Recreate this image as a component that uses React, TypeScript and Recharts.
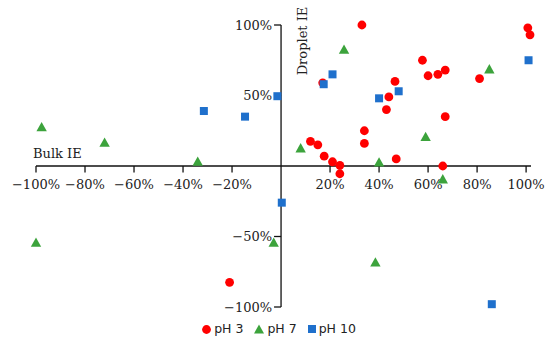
import React from "react";
import { ScatterChart, Scatter, XAxis, YAxis, ReferenceLine, ReferenceDot, Legend } from "recharts";

const ph3X = [33, 100.7, 101.6, 57.7, 60, 64, 67, 81, 17, 46.5, 44, 43, 67, 34, 34, 12, 15, 17.6, 21, 24, 24, 47, 66, -21];
const ph3Y = [100, 98, 93, 75, 64, 65, 68, 62, 59, 60, 49, 40, 35, 25, 16, 17.5, 15, 7, 3, 0.5, -5.5, 5, 0, -82.5];
const ph7X = [-97.7, -72, -34, 25.7, 85, 8, 59, 40, 66, -3, 38.5, -100];
const ph7Y = [27, 16, 2.5, 82, 68, 12, 20, 2, -10, -55, -69, -55];
const ph10X = [-31.5, -14.7, -1.5, 17.4, 21, 40, 48, 101, 0.3, 86];
const ph10Y = [39, 35, 49.5, 58, 65, 48, 53, 75, -26, -98];

const xTicks = [-100, -80, -60, -40, -20, 20, 40, 60, 80, 100];
const yTicks = [-100, -50, 50, 100];
const seriesNames = ["pH 3", "pH 7", "pH 10"];
const xLabel = "Bulk IE";
const yLabel = "Droplet IE";

const RED = "#ff0000";
const GREEN = "#3ca33c";
const BLUE = "#1f70cc";

const zip = (xs: number[], ys: number[]) => xs.map((x, i) => ({ x, y: ys[i] }));
const d3 = zip(ph3X, ph3Y);
const d7 = zip(ph7X, ph7Y);
const d10 = zip(ph10X, ph10Y);

const fmt = (v: number) => (v < 0 ? "\u2212" + Math.abs(v) : String(v)) + "%";
const SERIF = "'DejaVu Serif', serif";

const Circle = (p: any) => <circle cx={p.cx} cy={p.cy} r={4.4} fill={RED} />;
const Tri = (p: any) => (
  <polygon
    points={`${p.cx},${p.cy - 6} ${p.cx - 5.2},${p.cy + 3.3} ${p.cx + 5.2},${p.cy + 3.3}`}
    fill={GREEN}
  />
);
const Sq = (p: any) => <rect x={p.cx - 4} y={p.cy - 4} width={8} height={8} fill={BLUE} />;

const renderLegend = () => {
  const icons = [
    <svg width={9} height={9} key="c"><circle cx={4.5} cy={4.5} r={4.4} fill={RED} /></svg>,
    <svg width={10} height={10} key="t"><polygon points="5,0.5 0,9.5 10,9.5" fill={GREEN} /></svg>,
    <svg width={8} height={8} key="s"><rect x={0} y={0} width={8} height={8} fill={BLUE} /></svg>,
  ];
  return (
    <div
      style={{
        display: "flex",
        justifyContent: "center",
        alignItems: "center",
        gap: 11,
        paddingLeft: 8,
        fontFamily: "'DejaVu Sans', sans-serif",
        fontSize: 12.5,
        lineHeight: "14px",
        color: "#222",
      }}
    >
      {seriesNames.map((n, i) => (
        <div key={n} style={{ display: "flex", alignItems: "center", gap: 3 }}>
          {icons[i]}
          <span>{n}</span>
        </div>
      ))}
    </div>
  );
};

export default function App() {
  return (
    <div style={{ position: "absolute", left: 0, top: 0, width: 550, height: 340, background: "#fff" }}>
      <ScatterChart width={550} height={340} margin={{ top: 25, right: 19, left: 36, bottom: 33 }}>
        <XAxis type="number" dataKey="x" domain={[-100, 102]} hide />
        <YAxis type="number" dataKey="y" domain={[-100, 100]} hide />
        <ReferenceLine y={0} stroke="#111" strokeWidth={1.3} />
        <ReferenceLine x={0} stroke="#111" strokeWidth={1.3} />
        {xTicks.map((v) => (
          <ReferenceDot
            key={"xt" + v}
            x={v}
            y={0}
            r={0}
            shape={(p: any) => (
              <g>
                <line x1={p.cx} y1={p.cy} x2={p.cx} y2={p.cy + 6.5} stroke="#111" strokeWidth={1.3} />
                <text x={p.cx} y={p.cy + 23} textAnchor="middle" fontFamily={SERIF} fontSize={13} fill="#222">
                  {fmt(v)}
                </text>
              </g>
            )}
          />
        ))}
        {yTicks.map((v) => (
          <ReferenceDot
            key={"yt" + v}
            x={0}
            y={v}
            r={0}
            shape={(p: any) => (
              <g>
                <line x1={p.cx - 7} y1={p.cy} x2={p.cx} y2={p.cy} stroke="#111" strokeWidth={1.3} />
                <text x={p.cx - 9} y={p.cy + 4.7} textAnchor="end" fontFamily={SERIF} fontSize={13} fill="#222">
                  {fmt(v)}
                </text>
              </g>
            )}
          />
        ))}
        <ReferenceDot
          x={-100}
          y={0}
          r={0}
          shape={(p: any) => (
            <text x={p.cx - 3} y={p.cy - 8} fontFamily={SERIF} fontSize={13} fill="#222">
              {xLabel}
            </text>
          )}
        />
        <ReferenceDot
          x={0}
          y={100}
          r={0}
          shape={(p: any) => (
            <text
              x={p.cx + 25.5}
              y={p.cy + 16}
              textAnchor="middle"
              transform={`rotate(-90 ${p.cx + 25.5} ${p.cy + 16})`}
              fontFamily={SERIF}
              fontSize={13}
              fill="#222"
            >
              {yLabel}
            </text>
          )}
        />
        <Scatter name={seriesNames[0]} data={d3} shape={Circle} isAnimationActive={false} />
        <Scatter name={seriesNames[1]} data={d7} shape={Tri} isAnimationActive={false} />
        <Scatter name={seriesNames[2]} data={d10} shape={Sq} isAnimationActive={false} />
        <Legend
          verticalAlign="middle"
          align="center"
          layout="horizontal"
          wrapperStyle={{ left: 0, top: 322, width: 550 }}
          content={renderLegend}
        />
      </ScatterChart>
    </div>
  );
}
